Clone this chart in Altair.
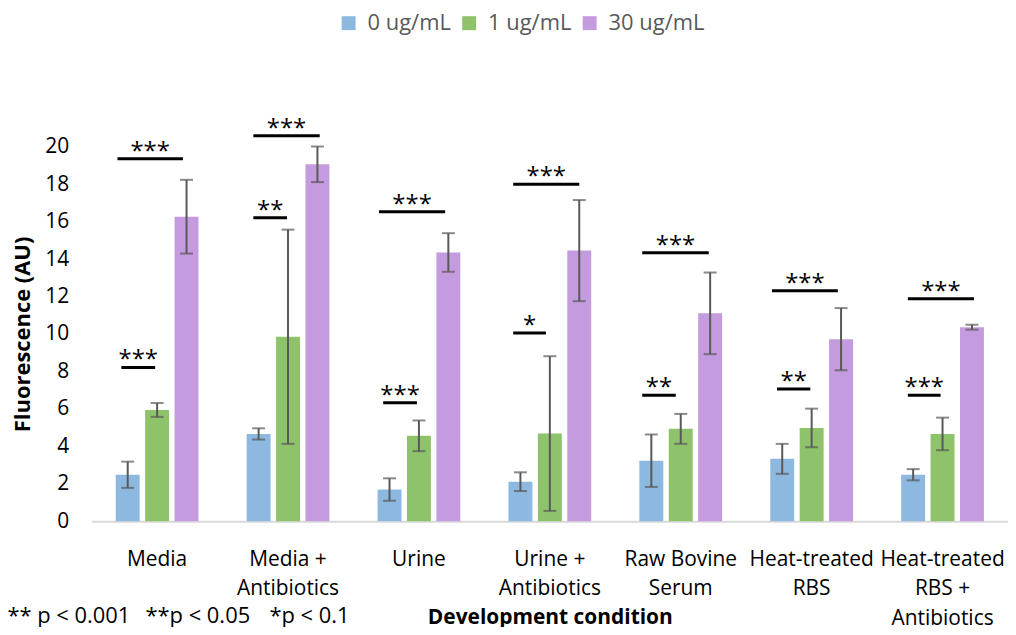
import json
import altair as alt
import pandas as pd

conditions = ["Media", "Media + Antibiotics", "Urine", "Urine + Antibiotics",
              "Raw Bovine Serum", "Heat-treated RBS", "Heat-treated RBS + Antibiotics"]
label_lines = [["Media"], ["Media +", "Antibiotics"], ["Urine"], ["Urine +", "Antibiotics"],
               ["Raw Bovine", "Serum"], ["Heat-treated", "RBS"], ["Heat-treated", "RBS +", "Antibiotics"]]
concs = ["0 ug/mL", "1 ug/mL", "30 ug/mL"]
colors = ["#8DB9E1", "#8EC26B", "#C49BDF"]
y_ticks = [0, 2, 4, 6, 8, 10, 12, 14, 16, 18, 20]

mean_0 = [2.48, 4.66, 1.69, 2.11, 3.23, 3.33, 2.48]
err_0 = [0.70, 0.30, 0.60, 0.50, 1.40, 0.80, 0.30]
mean_1 = [5.94, 9.85, 4.56, 4.68, 4.93, 4.98, 4.66]
err_1 = [0.37, 5.72, 0.82, 4.13, 0.80, 1.03, 0.87]
mean_30 = [16.26, 19.06, 14.35, 14.45, 11.10, 9.72, 10.36]
err_30 = [1.97, 0.95, 1.03, 2.70, 2.18, 1.66, 0.13]

# significance annotations: group position units (group i spans [i, i+1])
sig_y = [19.36, 8.21, 20.58, 16.2, 16.53, 6.33, 18.0, 10.05, 14.33, 6.72, 12.3, 7.06, 11.88, 6.72]
sig_x1 = [0.197, 0.227, 1.235, 1.235, 2.195, 2.227, 3.22, 3.22, 4.206, 4.206, 5.197, 5.235, 6.235, 6.235]
sig_x2 = [0.697, 0.485, 1.742, 1.492, 2.70, 2.485, 3.725, 3.47, 4.714, 4.462, 5.70, 5.49, 6.74, 6.485]
sig_txt = ["***", "***", "***", "**", "***", "***", "***", "*", "***", "**", "***", "**", "***", "***"]

NB = "\u00a0"
footnote = "*** p < 0.001" + NB * 2 + "\u2009" + "**p < 0.05" + NB * 3 + "\u200a" + "*p < 0.1"

rows = []
for means, errs, c in [(mean_0, err_0, concs[0]), (mean_1, err_1, concs[1]), (mean_30, err_30, concs[2])]:
    for cond, m, e in zip(conditions, means, errs):
        rows.append({"cond": cond, "conc": c, "mean": m, "lo": m - e, "hi": m + e})
df = pd.DataFrame(rows)

sig = pd.DataFrame({"y": sig_y, "x1": sig_x1, "x2": sig_x2, "txt": sig_txt})
sig["xm"] = (sig["x1"] + sig["x2"]) / 2

W, H = 920, 376
FONT = "Open Sans"

mapping = {c: l for c, l in zip(conditions, label_lines)}
label_expr = json.dumps(mapping) + "[datum.value]"

x_axis = alt.Axis(title="Development condition", labelExpr=label_expr,
                  labelAngle=0, labelFontSize=21, labelColor="#000000",
                  labelPadding=27, labelLineHeight=30, labelBaseline="top",
                  ticks=False, tickSize=0, domainColor="#D9D9D9", domainWidth=2,
                  titleFontSize=21, titleFontWeight="bold", titleColor="#000000",
                  titleX=W / 2, titleY=97, titleBaseline="middle", labelLimit=200)
y_axis = alt.Axis(title="Fluorescence (AU)", values=y_ticks, grid=False,
                  domain=False, ticks=False, tickSize=0, labelFontSize=21,
                  labelOverlap=False,
                  labelColor="#000000", labelPadding=23, titleFontSize=22,
                  titleFontWeight="bold", titleColor="#000000",
                  titleX=-69, titleY=H / 2, titleBaseline="middle")
x_scale = alt.Scale(paddingInner=0.326, paddingOuter=0.163)
xo_scale = alt.Scale(paddingInner=0.186, paddingOuter=0.093)
y_scale = alt.Scale(domain=[0, 20], nice=False)


def xenc():
    return alt.X("cond:N", sort=conditions, scale=x_scale, axis=x_axis, title="Development condition")


def xoenc():
    return alt.XOffset("conc:N", sort=concs, scale=xo_scale)


def yenc(field):
    return alt.Y(field, scale=y_scale, axis=y_axis, title="Fluorescence (AU)")


bars = alt.Chart(df).mark_bar().encode(
    x=xenc(), xOffset=xoenc(), y=yenc("mean:Q"),
    color=alt.Color("conc:N", sort=concs, scale=alt.Scale(domain=concs, range=colors),
                    legend=alt.Legend(title=None, orient="none", legendX=247, legendY=-135,
                                      direction="horizontal", symbolType="square",
                                      symbolSize=196, symbolStrokeWidth=0, labelFontSize=22,
                                      labelColor="#595959", labelOffset=8, columnPadding=7)),
)

err = alt.Chart(df).mark_rule(color="#595959", strokeWidth=2).encode(
    x=xenc(), xOffset=xoenc(), y=yenc("lo:Q"), y2="hi:Q")

cap_lo = alt.Chart(df).mark_tick(color="#595959", thickness=2, size=13).encode(
    x=xenc(), xOffset=xoenc(), y=yenc("lo:Q"))
cap_hi = alt.Chart(df).mark_tick(color="#595959", thickness=2, size=13).encode(
    x=xenc(), xOffset=xoenc(), y=yenc("hi:Q"))

xq = alt.Scale(domain=[0, 7], nice=False, zero=False)
sig_lines = alt.Chart(sig).mark_rule(color="#000000", strokeWidth=3).encode(
    x=alt.X("x1:Q", scale=xq, axis=None), x2="x2:Q", y=yenc("y:Q"))
sig_text = alt.Chart(sig).mark_text(font=FONT, fontSize=24, color="#000000", baseline="alphabetic",
                                    dy=0, align="center").encode(
    x=alt.X("xm:Q", scale=xq, axis=None), y=yenc("y:Q"), text="txt:N")

foot = alt.Chart(pd.DataFrame({"t": [footnote]})).mark_text(
    font=FONT, fontSize=22, color="#000000", align="right", baseline="middle").encode(
    x=alt.value(259), y=alt.value(471), text="t:N")

main = alt.layer(bars, err, cap_lo, cap_hi)
ann = alt.layer(sig_lines, sig_text)

chart = alt.layer(main, ann, foot).resolve_scale(x="independent").properties(
    width=W, height=H,
    autosize=alt.AutoSizeParams(type="none"),
    padding={"left": 84, "top": 138, "right": 0, "bottom": 105},
).configure(font=FONT).configure_view(stroke=None).configure_axis(labelOverlap=False)

chart.save("out.html", embed_options={"renderer": "svg", "actions": False})
